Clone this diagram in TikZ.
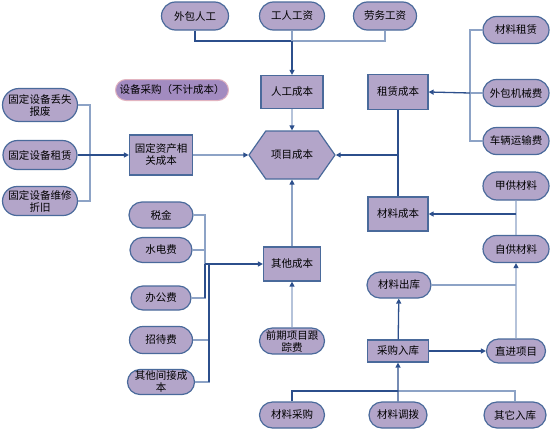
\documentclass[tikz,border=0pt]{standalone}
\usepackage{fontspec}
\setmainfont{Noto Sans CJK SC}
\usetikzlibrary{shapes.misc, shapes.symbols, arrows.meta, positioning, calc}
\definecolor{BoxFill}{HTML}{B3A5C9}
\definecolor{BoxLine}{HTML}{4A6A9B}
\definecolor{LinkLight}{HTML}{8DA3C6}
\definecolor{LinkDark}{HTML}{2C4F8C}
\definecolor{NoteFill}{HTML}{A28BC0}
\definecolor{NoteLine}{HTML}{E2B4C0}

\begin{document}
\begin{tikzpicture}[
    x=1pt, y=-1pt,
    font=\fontsize{10.5pt}{12pt}\selectfont,
    pill/.style={
        rounded rectangle,
        fill=BoxFill,
        draw=BoxLine,
        line width=1.2pt,
        inner sep=1pt,
        align=center
    },
    costbox/.style={
        rectangle,
        fill=BoxFill,
        draw=BoxLine,
        line width=1.2pt,
        inner sep=1pt,
        align=center
    },
    link/.style={
        draw=LinkLight,
        line width=1.1pt
    },
    feed/.style={
        draw=LinkDark,
        line width=1.3pt,
        -{Triangle[length=5pt,width=5pt]}
    },
    lfeed/.style={
        draw=LinkLight,
        line width=1.1pt,
        -{Triangle[length=5pt,width=5pt,color=LinkDark]}
    }
]
\useasboundingbox (0,0) rectangle (553,431);

% labour
\node[pill, minimum width=69pt, minimum height=28pt] (waibao) at (195,16) {外包人工};
\node[pill, minimum width=67pt, minimum height=28pt] (gongren) at (292,16) {工人工资};
\node[pill, minimum width=65pt, minimum height=28pt] (laowu) at (385,16) {劳务工资};
\node[costbox, minimum width=62pt, minimum height=33pt] (rengong) at (292,92) {人工成本};

\node[rounded rectangle, fill=NoteFill, draw=NoteLine, line width=1pt,
      minimum width=115pt, minimum height=21pt, inner sep=1pt] (shebei) at (172,90) {设备采购（不计成本）};

% fixed assets
\node[pill, minimum width=77pt, minimum height=33pt] (gd1) at (40,105) {固定设备丢失\\报废};
\node[pill, minimum width=76pt, minimum height=29pt] (gd2) at (40,155) {固定设备租赁};
\node[pill, minimum width=77pt, minimum height=29pt] (gd3) at (40,201) {固定设备维修\\折旧};
\node[costbox, minimum width=63pt, minimum height=40pt] (guding) at (161,155) {固定资产相\\关成本};

% project cost
\node[signal, signal to=east and west, signal pointer angle=110,
      fill=BoxFill, draw=BoxLine, line width=1.2pt,
      minimum width=86pt, minimum height=48pt, inner sep=1pt] (xiangmu) at (292,155) {项目成本};

% rent
\node[costbox, minimum width=60pt, minimum height=35pt] (zulin) at (398,92) {租赁成本};
\node[pill, minimum width=68pt, minimum height=27pt] (clzl) at (516,30) {材料租赁};
\node[pill, minimum width=68pt, minimum height=27pt] (wbjx) at (516,93) {外包机械费};
\node[pill, minimum width=68pt, minimum height=27pt] (clys) at (516,141) {车辆运输费};

% material
\node[costbox, minimum width=60pt, minimum height=34pt] (cailiao) at (398,214) {材料成本};
\node[pill, minimum width=68pt, minimum height=28pt] (jiagong) at (516,186) {甲供材料};
\node[pill, minimum width=68pt, minimum height=27pt] (zigong) at (516,249) {自供材料};
\node[pill, minimum width=66pt, minimum height=26pt] (chuku) at (399,285) {材料出库};
\node[costbox, minimum width=61pt, minimum height=22pt] (caigou) at (398,351) {采购入库};
\node[pill, minimum width=61pt, minimum height=24pt] (zhijin) at (516,351) {直进项目};
\node[pill, minimum width=67pt, minimum height=26pt] (clcg) at (292,415) {材料采购};
\node[pill, minimum width=60pt, minimum height=26pt] (cldb) at (398,415) {材料调拨};
\node[pill, minimum width=64pt, minimum height=26pt] (qtrk) at (515,415) {其它入库};

% other
\node[costbox, minimum width=57pt, minimum height=34pt] (qita) at (292,264) {其他成本};
\node[pill, minimum width=67pt, minimum height=26pt] (qianqi) at (292,341) {前期项目跟\\踪费};
\node[pill, minimum width=66pt, minimum height=26pt] (shuijin) at (161,215) {税金};
\node[pill, minimum width=64pt, minimum height=25pt] (shuidian) at (161,250) {水电费};
\node[pill, minimum width=62pt, minimum height=24pt] (bangong) at (161,298) {办公费};
\node[pill, minimum width=65pt, minimum height=27pt] (zhaodai) at (161,340) {招待费};
\node[pill, minimum width=63pt, minimum height=25pt] (jianjie) at (161,382) {其他间接成\\本};

% junctions
\coordinate (jr) at (292,41);
\coordinate (jg) at (90,155);
\coordinate (jzl) at (470,93);
\coordinate (jz) at (zulin |- xiangmu);
\coordinate (jcl) at (jiagong |- cailiao);
\coordinate (jck) at (zigong |- chuku);
\coordinate (jb) at (398,391);
\coordinate (jq) at (205,264);
\coordinate (jq2) at (209,264);

% connectors
\draw[draw=LinkDark, line width=1.1pt] (waibao.south) |- (jr);
\draw[link] (laowu.south) |- (jr);
\draw[link] (gongren) -- (jr);
\draw[feed] (jr) -- (rengong.north);
\draw[lfeed] (rengong) -- (xiangmu);

\draw[link] (gd1.east) -| (jg) |- (gd3.east);
\draw[feed] (gd2.east) -- (guding.west);
\draw[lfeed] (guding) -- (xiangmu.west);

\draw[link] (clzl.west) -| (jzl) |- (clys.west);
\draw[link] (wbjx) -- (jzl);
\draw[feed] (jzl) -- (zulin.east);
\draw[draw=LinkDark, line width=1.1pt] (zulin) -- (cailiao);
\draw[feed] (jz) -- (xiangmu.east);

\draw[link] (jiagong) -- (zigong);
\draw[feed] (jcl) -- (cailiao.east);
\draw[link] (chuku.east) -- (jck);
\draw[lfeed] (zhijin) -- (zigong);
\draw[feed] (caigou) -- (chuku);
\draw[feed] (caigou) -- (zhijin);

\draw[draw=LinkDark, line width=1.1pt] (clcg.north) |- (jb);
\draw[link] (qtrk.north) |- (jb);
\draw[feed] (cldb) -- (caigou);

\draw[link] (shuijin.east) -| (jq);
\draw[link] (shuidian.east) -| (jq);
\draw[link] (bangong.east) -| (jq);
\draw[link] (zhaodai.east) -| (jq2);
\draw[link] (jianjie.east) -| (jq2);
\draw[draw=LinkDark, line width=1.1pt] (jq) -- ++(0,34) (jq2) -- ++(0,118);
\draw[feed] (jq) -- (qita.west);
\draw[lfeed] (qita) -- (xiangmu);
\draw[lfeed] (qianqi) -- (qita);

\end{tikzpicture}
\end{document}
